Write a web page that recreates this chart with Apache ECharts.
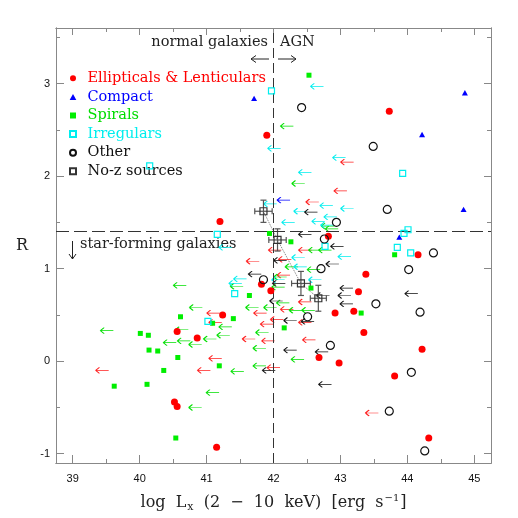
<!DOCTYPE html>
<html>
<head>
<meta charset="utf-8">
<script src="https://cdn.jsdelivr.net/npm/echarts@6/dist/echarts.min.js"></script>
<style>
html, body { margin: 0; padding: 0; background: #fff; }
#chart { width: 518px; height: 518px; }
</style>
</head>
<body>
<div id="chart"></div>
<script>
// detections: [log Lx, R]
var ellipticals = [[43.73,2.70],[41.90,2.44],[41.20,1.51],[42.82,1.35],[41.82,0.83],[41.96,0.76],[43.27,0.75],[43.38,0.94],[42.92,0.52],[43.20,0.54],[41.24,0.50],[43.35,0.31],[44.16,1.15],[44.22,0.13],[42.68,0.04],[42.98,-0.02],[43.81,-0.16],[44.32,-0.83],[41.15,-0.93],[40.56,0.32],[40.86,0.25],[40.52,-0.44],[40.56,-0.49]];
var compact = [[41.71,2.84],[44.86,2.90],[44.22,2.45],[44.84,1.64],[43.88,1.34]];
var spirals = [[42.53,3.09],[41.94,1.38],[42.26,1.29],[42.56,0.79],[41.64,0.71],[43.81,1.15],[43.31,0.52],[41.40,0.46],[42.16,0.36],[41.19,-0.05],[40.61,0.48],[41.09,0.41],[40.01,0.30],[40.13,0.28],[40.14,0.12],[40.27,0.11],[40.57,0.04],[40.36,-0.10],[39.62,-0.27],[40.11,-0.25],[40.54,-0.83]];
var irregulars = [[41.97,2.92],[40.15,2.11],[41.16,1.37],[43.93,2.03],[44.01,1.42],[43.95,1.38],[43.85,1.23],[44.05,1.17],[42.77,1.24],[41.42,0.73],[41.02,0.43]];
var others = [[42.42,2.74],[43.49,2.32],[43.70,1.64],[42.94,1.50],[44.39,1.17],[44.02,0.99],[43.53,0.62],[44.19,0.53],[42.85,0.17],[44.06,-0.12],[43.73,-0.54],[44.26,-0.97],[42.76,1.32],[42.71,1.00],[41.85,0.88],[42.51,0.48]];
var noZ = [[41.85,1.62],[42.06,1.31],[42.41,0.84],[42.67,0.68]];
var noZxErr = [0.13,0.13,0.14,0.12];
var noZyErr = [0.12,0.12,0.13,0.14];

// upper limits in Lx (drawn as left arrows)
var ellipticalLimits = [[43.10,2.15],[43.00,1.84],[42.58,1.72],[42.02,1.20],[42.47,1.20],[41.69,1.08],[42.17,1.10],[42.15,0.93],[42.47,0.64],[41.80,0.52],[42.20,0.56],[42.05,0.45],[41.90,0.40],[42.47,0.42],[41.63,0.24],[41.92,0.22],[42.53,0.23],[41.13,0.03],[40.96,-0.10],[42.00,-0.07],[39.44,-0.10],[41.10,0.52],[41.13,0.42],[43.47,-0.56]];
var compactLimits = [[42.15,1.74]];
var spiralLimits = [[42.20,2.54],[42.37,1.92],[42.81,1.46],[42.87,1.43],[42.62,1.20],[42.77,1.20],[42.27,1.02],[42.60,0.99],[42.10,0.91],[41.45,0.81],[42.07,0.80],[40.60,0.82],[40.84,0.58],[39.51,0.33],[40.63,0.34],[40.45,0.20],[40.66,0.22],[40.83,0.18],[41.05,0.24],[41.09,-0.34],[40.83,-0.50],[41.28,0.37],[41.25,0.28],[41.68,0.58],[41.95,0.58],[41.83,0.31],[41.79,0.14],[42.14,0.63],[42.33,0.55],[42.52,0.55],[42.36,0.02],[41.79,-0.05],[41.46,-0.11]];
var irregularLimits = [[42.65,2.97],[42.01,2.30],[42.98,2.20],[42.47,2.04],[41.95,1.70],[42.79,1.68],[43.10,1.65],[42.40,1.62],[42.85,1.56],[42.67,1.51],[42.22,1.50],[42.80,1.47],[43.06,1.13],[42.37,1.12],[42.40,1.02],[41.50,0.89],[42.62,0.88],[42.07,0.88],[41.43,0.84],[41.28,1.23]];
var otherLimits = [[42.56,1.61],[42.47,1.37],[42.95,1.24],[42.10,1.09],[42.88,1.05],[41.72,0.94],[42.08,0.84],[43.09,0.79],[43.06,0.71],[43.09,0.62],[42.04,0.65],[42.74,0.71],[42.25,0.44],[42.51,0.43],[42.25,0.12],[42.72,0.10],[41.93,-0.10],[42.77,-0.25],[44.06,0.73]];

var xMajorTicks = [39, 40, 41, 42, 43, 44, 45];
var xMinorTicks = [39.5, 40.5, 41.5, 42.5, 43.5, 44.5];
var yMajorTicks = [-1, 0, 1, 2, 3];
var yMinorTicks = [-0.5, 0.5, 1.5, 2.5, 3.5];
var agnDivide = 42;
var sfDivide = 1.4;

var serif = '"DejaVu Serif", serif';
var frameColor = '#888';
var arrowPath = 'path://M0,3 L14,3 M0,3 L4,0 M0,3 L4,6';
var squarePath = 'path://M0,0 L10,0 L10,10 L0,10 Z';
var trianglePath = 'path://M5,0 L10,9 L0,9 Z';

function axis(dim, pos, ticks, len, labels) {
  var a = {
    type: 'value',
    position: pos,
    min: dim === 'x' ? 38.75 : -1.1,
    max: dim === 'x' ? 45.25 : 3.6,
    axisLine: { show: true, onZero: false, lineStyle: { color: frameColor, width: 1 } },
    axisTick: { show: true, inside: true, length: len, customValues: ticks, lineStyle: { color: frameColor, width: 1 } },
    axisLabel: { show: false },
    splitLine: { show: false }
  };
  if (labels) {
    a.axisLabel = { show: true, customValues: ticks, color: '#111', fontFamily: 'Liberation Sans', fontSize: 11, margin: dim === 'x' ? 10 : 6 };
  }
  return a;
}

function scatter(name, data, symbol, size, fill, stroke, bw) {
  return {
    name: name, type: 'scatter', data: data, symbol: symbol, symbolSize: size,
    symbolKeepAspect: true,
    itemStyle: { color: fill, borderColor: stroke, borderWidth: bw, opacity: 1 },
    z: 5
  };
}

function limits(name, data, color) {
  return {
    name: name, type: 'scatter', data: data, symbol: arrowPath, symbolSize: [13, 6],
    symbolKeepAspect: false,
    itemStyle: { color: color, borderColor: color, borderWidth: 1, opacity: 1 },
    z: 3
  };
}

var xBottom = axis('x', 'bottom', xMajorTicks, 8, true);
xBottom.name = '{t|log  L}{s|x}{t|  (2  −  10  keV)  [erg  s}{p|−1}{t|]}';
xBottom.nameLocation = 'middle';
xBottom.nameGap = 30;
xBottom.nameTextStyle = {
  rich: {
    t: { fontFamily: serif, fontSize: 16, color: '#222' },
    s: { fontFamily: serif, fontSize: 11, color: '#222', padding: [9, 0, 0, 1] },
    p: { fontFamily: serif, fontSize: 10, color: '#222', padding: [0, 1, 9, 1] }
  }
};

var yLeft = axis('y', 'left', yMajorTicks, 8, true);
yLeft.name = 'R';
yLeft.nameLocation = 'middle';
yLeft.nameRotate = 0;
yLeft.nameGap = 28;
yLeft.nameTextStyle = { fontFamily: serif, fontSize: 16, color: '#222' };

var chart = echarts.init(document.getElementById('chart'));

chart.setOption({
  animation: false,
  backgroundColor: '#fff',
  grid: { left: 56, right: 27, top: 28, bottom: 55, containLabel: false, outerBoundsMode: 'none' },
  xAxis: [
    xBottom,
    axis('x', 'bottom', xMinorTicks, 4, false),
    axis('x', 'top', xMajorTicks, 7, false),
    axis('x', 'top', xMinorTicks, 4, false)
  ],
  yAxis: [
    yLeft,
    axis('y', 'left', yMinorTicks, 4, false),
    axis('y', 'right', yMajorTicks, 7, false),
    axis('y', 'right', yMinorTicks, 4, false)
  ],
  legend: {
    orient: 'vertical', left: 69, top: 69, padding: 0, itemGap: 0,
    itemWidth: 19, itemHeight: 6, selectedMode: false, symbolKeepAspect: true,
    textStyle: { fontFamily: serif, fontSize: 14.5, lineHeight: 18.6 },
    data: [
      { name: 'Ellipticals & Lenticulars', textStyle: { color: '#ff0000' } },
      { name: 'Compact', textStyle: { color: '#0000ff' } },
      { name: 'Spirals', textStyle: { color: '#00dd00' } },
      { name: 'Irregulars', textStyle: { color: '#00eeee' } },
      { name: 'Other', textStyle: { color: '#111' } },
      { name: 'No-z sources', textStyle: { color: '#111' } }
    ]
  },
  graphic: [
    { type: 'text', x: 268, y: 42, style: { text: 'normal galaxies', align: 'right', verticalAlign: 'middle', font: '14.5px ' + serif, fill: '#222' } },
    { type: 'text', x: 280, y: 42, style: { text: 'AGN', align: 'left', verticalAlign: 'middle', font: '14.5px ' + serif, fill: '#222' } },
    { type: 'line', shape: { x1: 251, y1: 59, x2: 269, y2: 59 }, style: { stroke: '#222', lineWidth: 1 } },
    { type: 'polyline', shape: { points: [[256, 55.5], [251, 59], [256, 62.5]] }, style: { stroke: '#222', lineWidth: 1, fill: null } },
    { type: 'line', shape: { x1: 278, y1: 59, x2: 296, y2: 59 }, style: { stroke: '#222', lineWidth: 1 } },
    { type: 'polyline', shape: { points: [[291, 55.5], [296, 59], [291, 62.5]] }, style: { stroke: '#222', lineWidth: 1, fill: null } },
    { type: 'text', x: 80, y: 244, style: { text: 'star-forming galaxies', align: 'left', verticalAlign: 'middle', font: '14.5px ' + serif, fill: '#222' } },
    { type: 'line', shape: { x1: 72.5, y1: 241, x2: 72.5, y2: 259 }, style: { stroke: '#222', lineWidth: 1 } },
    { type: 'polyline', shape: { points: [[69, 254], [72.5, 259], [76, 254]] }, style: { stroke: '#222', lineWidth: 1, fill: null } }
  ],
  series: [
    {
      name: 'track', type: 'line', data: noZ, symbol: 'none', silent: true,
      lineStyle: { type: 'dotted', color: '#777', width: 1 },
      markLine: {
        silent: true, symbol: 'none', label: { show: false },
        data: [
          { xAxis: agnDivide, lineStyle: { type: [10, 5], color: '#333', width: 1 } },
          { yAxis: sfDivide, lineStyle: { type: [13, 5], color: '#333', width: 1 } }
        ]
      },
      z: 2
    },
    limits('Ellipticals limits', ellipticalLimits, '#ff2020'),
    limits('Compact limits', compactLimits, '#0000ff'),
    limits('Spirals limits', spiralLimits, '#00e000'),
    limits('Irregulars limits', irregularLimits, '#00eeee'),
    limits('Other limits', otherLimits, '#111'),
    {
      name: 'No-z errors', type: 'custom', silent: true, z: 4,
      data: noZ.map(function (p, i) { return [p[0], p[1], noZxErr[i], noZyErr[i]]; }),
      encode: { x: 0, y: 1 },
      renderItem: function (params, api) {
        var x = api.value(0), y = api.value(1), ex = api.value(2), ey = api.value(3);
        var l = api.coord([x - ex, y]), r = api.coord([x + ex, y]);
        var t = api.coord([x, y + ey]), b = api.coord([x, y - ey]);
        var st = { stroke: '#555', lineWidth: 1.2 };
        var cap = 3;
        return {
          type: 'group',
          children: [
            { type: 'line', shape: { x1: l[0], y1: l[1], x2: r[0], y2: r[1] }, style: st },
            { type: 'line', shape: { x1: l[0], y1: l[1] - cap, x2: l[0], y2: l[1] + cap }, style: st },
            { type: 'line', shape: { x1: r[0], y1: r[1] - cap, x2: r[0], y2: r[1] + cap }, style: st },
            { type: 'line', shape: { x1: t[0], y1: t[1], x2: b[0], y2: b[1] }, style: st },
            { type: 'line', shape: { x1: t[0] - cap, y1: t[1], x2: t[0] + cap, y2: t[1] }, style: st },
            { type: 'line', shape: { x1: b[0] - cap, y1: b[1], x2: b[0] + cap, y2: b[1] }, style: st }
          ]
        };
      }
    },
    scatter('Ellipticals & Lenticulars', ellipticals, 'circle', 7, '#ff0000', '#ff0000', 0),
    scatter('Compact', compact, trianglePath, 6, '#0000ff', '#0000ff', 0),
    scatter('Spirals', spirals, squarePath, 5, '#00ee00', '#00ee00', 0),
    scatter('Irregulars', irregulars, squarePath, 6, 'rgba(0,0,0,0)', '#00eeee', 1.2),
    scatter('Other', others, 'circle', 8, 'rgba(0,0,0,0)', '#111', 1.2),
    scatter('No-z sources', noZ, squarePath, 7, 'rgba(0,0,0,0)', '#333', 1.2)
  ]
});
</script>
</body>
</html>
